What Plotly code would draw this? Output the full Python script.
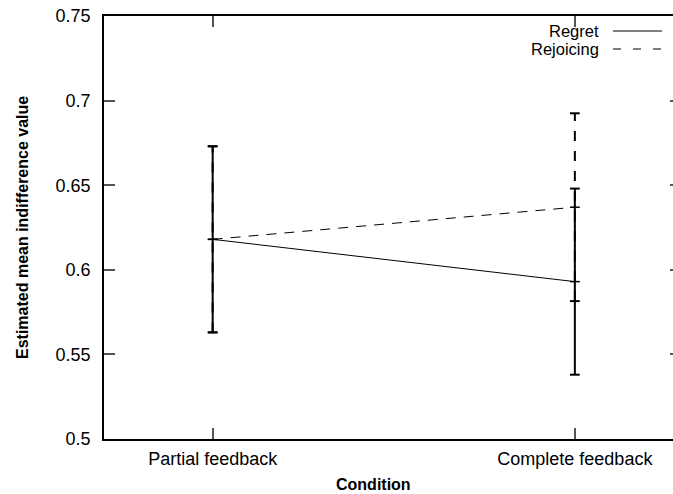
import plotly.graph_objects as go

categories = ["Partial feedback", "Complete feedback"]
cat_pos = [1, 2]
regret_mean = [0.618, 0.593]
regret_err = [0.055, 0.055]
rejoicing_mean = [0.618, 0.637]
rejoicing_err = [0.055, 0.0555]
y_ticks = [0.5, 0.55, 0.6, 0.65, 0.7, 0.75]
y_tick_labels = ["0.5", "0.55", "0.6", "0.65", "0.7", "0.75"]

FONT = "Liberation Sans, Arial, sans-serif"

fig = go.Figure()


def err_xy(means, errs):
    xs, ys = [], []
    for x, m, e in zip(cat_pos, means, errs):
        xs += [x, x, None]
        ys += [m - e, m + e, None]
    return xs, ys


def cap_xy(means, errs):
    xs, ys = [], []
    for x, m, e in zip(cat_pos, means, errs):
        xs += [x, x]
        ys += [m - e, m + e]
    return xs, ys


# Rejoicing error bars (dashed), drawn first
xs, ys = err_xy(rejoicing_mean, rejoicing_err)
fig.add_trace(go.Scatter(x=xs, y=ys, mode="lines", line=dict(color="black", width=2, dash="10px,10px"),
                         showlegend=False, hoverinfo="skip"))
xs, ys = cap_xy(rejoicing_mean, rejoicing_err)
fig.add_trace(go.Scatter(x=xs, y=ys, mode="markers",
                         marker=dict(symbol="line-ew", size=7, line=dict(color="black", width=2)),
                         showlegend=False, hoverinfo="skip"))

# Regret error bars (solid)
xs, ys = err_xy(regret_mean, regret_err)
fig.add_trace(go.Scatter(x=xs, y=ys, mode="lines", line=dict(color="black", width=2),
                         showlegend=False, hoverinfo="skip"))
xs, ys = cap_xy(regret_mean, regret_err)
fig.add_trace(go.Scatter(x=xs, y=ys, mode="markers",
                         marker=dict(symbol="line-ew", size=7, line=dict(color="black", width=2)),
                         showlegend=False, hoverinfo="skip"))

# Mean lines
fig.add_trace(go.Scatter(x=cat_pos, y=regret_mean, mode="lines+markers", name="Regret",
                         line=dict(color="black", width=1),
                         marker=dict(symbol="line-ew", size=7, line=dict(color="black", width=1.5)),
                         showlegend=False))
fig.add_trace(go.Scatter(x=cat_pos, y=rejoicing_mean, mode="lines+markers", name="Rejoicing",
                         line=dict(color="black", width=1, dash="10px,8px"),
                         marker=dict(symbol="line-ew", size=7, line=dict(color="black", width=1.5)),
                         showlegend=False))

# Right-side mirrored ticks (short, partly clipped like the reference)
fig.add_trace(go.Scatter(x=[None], y=[None], yaxis="y2", showlegend=False, hoverinfo="skip"))

fig.update_layout(
    width=673, height=494,
    margin=dict(l=104, r=0, t=16, b=55),
    plot_bgcolor="white", paper_bgcolor="white",
    font=dict(family=FONT, size=18, color="black"),
    showlegend=False,
    xaxis=dict(range=[0.7, 2.271], tickvals=cat_pos, ticktext=categories,
               showline=True, linecolor="black", linewidth=1.5, mirror="ticks",
               ticks="inside", ticklen=11, tickwidth=1.5, tickcolor="#555",
               showgrid=False, zeroline=False, ticklabelstandoff=3,
               tickfont=dict(family=FONT, size=18, color="black")),
    yaxis=dict(range=[0.5, 0.75], tickvals=y_ticks, ticktext=y_tick_labels,
               showline=True, linecolor="black", linewidth=1.5,
               ticks="inside", ticklen=11, tickwidth=1.5, tickcolor="#555",
               showgrid=False, zeroline=False, ticklabelstandoff=8,
               tickfont=dict(family=FONT, size=18, color="black")),
    yaxis2=dict(range=[0.5, 0.75], tickvals=y_ticks, overlaying="y", side="right",
                ticks="inside", ticklen=3, tickwidth=1.5, tickcolor="#555",
                showticklabels=False, showline=False, showgrid=False, zeroline=False),
)

# Axis titles
fig.add_annotation(text="<b>Condition</b>", xref="paper", yref="paper",
                   x=(373 - 104) / 569, y=-(484 - 439) / 423, showarrow=False,
                   xanchor="center", yanchor="middle", font=dict(family=FONT, size=16))
fig.add_annotation(text="<b>Estimated mean indifference value</b>", xref="paper", yref="paper",
                   x=-(104 - 22) / 569, y=(439 - 228) / 423, showarrow=False, textangle=-90,
                   xanchor="center", yanchor="middle", font=dict(family=FONT, size=16))

# Legend (gnuplot style: text then line sample)
legend_items = [("Regret", "solid", 31), ("Rejoicing", "8px,12px", 49)]
for label, dash, ypx in legend_items:
    yp = (439 - ypx) / 423
    fig.add_annotation(text=label, xref="paper", yref="paper", x=(601 - 104) / 569, y=yp,
                       showarrow=False, xanchor="right", yanchor="middle",
                       font=dict(family=FONT, size=16.5))
    fig.add_shape(type="line", xref="paper", yref="paper",
                  x0=(613 - 104) / 569, x1=(662 - 104) / 569, y0=yp, y1=yp,
                  line=dict(color="black", width=1, dash=dash))

fig.write_html("out.html", config={"displayModeBar": False},
               post_script="document.body.style.margin='0';")
